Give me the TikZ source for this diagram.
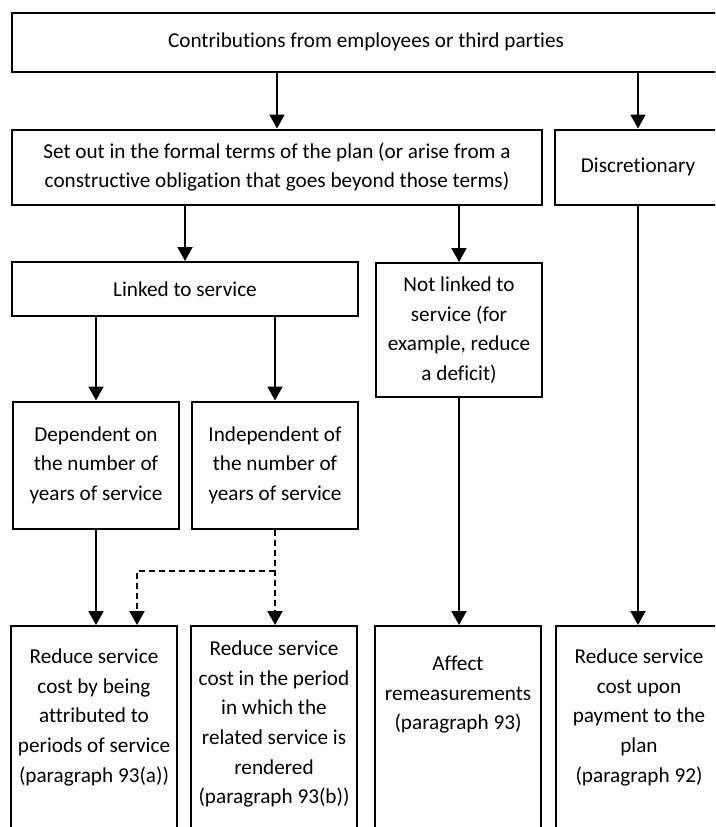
\documentclass[tikz,border=0pt]{standalone}
\usepackage{fontspec}
\setmainfont{Carlito}[Ligatures=NoCommon]
\usetikzlibrary{arrows.meta}
\newcommand{\lowtext}[2]{\parbox[t][230pt][t]{166pt}{\centering\vspace*{#1}#2}}

\begin{document}
\begin{tikzpicture}[x=1pt,y=-1pt,
	font=\fontsize{21.2}{29.6}\selectfont,
	box/.style={draw, line width=2pt, inner sep=0pt, align=center},
	arr/.style={line width=2pt, -{Triangle[width=15pt,length=14pt]}},
	dasharr/.style={arr, dash pattern=on 6pt off 4pt}]
	\useasboundingbox (0,0) rectangle (715,827);
	\clip (0,0) rectangle (715,827);

	\node[box, minimum width=708pt, minimum height=59pt] (top) at (366,42) {Contributions from employees or third parties};

	\node[box, minimum width=530pt, minimum height=75pt] (setout) at (277,167) {Set out in the formal terms of the plan (or arise from a\\constructive obligation that goes beyond those terms)};
	\node[box, minimum width=166pt, minimum height=75pt] (disc) at (638,167) {Discretionary};

	\node[box, minimum width=346pt, minimum height=54pt] (linked) at (185,289) {Linked to service};
	\node[box, minimum width=166pt, minimum height=134pt] (notlinked) at (459,330) {Not linked to\\service (for\\example, reduce\\a deficit)};

	\node[box, minimum width=166pt, minimum height=127pt] (dep) at (96,465) {Dependent on\\the number of\\years of service};
	\node[box, minimum width=166pt, minimum height=127pt] (indep) at (275,465) {Independent of\\the number of\\years of service};

	\node[box, anchor=north] (red1) at (94,625) {\lowtext{23pt}{Reduce service\\cost by being\\attributed to\\periods of service\\(paragraph 93(a))}};
	\node[box, anchor=north] (red2) at (274,625) {\lowtext{15pt}{Reduce service\\cost in the period\\in which the\\related service is\\rendered\\(paragraph 93(b))}};
	\node[box, anchor=north] (red3) at (458,625) {\lowtext{30pt}{Affect\\remeasurements\\(paragraph 93)}};
	\node[box, anchor=north] (red4) at (639,625) {\lowtext{23pt}{Reduce service\\cost upon\\payment to the\\plan\\(paragraph 92)}};

	\coordinate (fork) at (137,571);

	\foreach \a / \b in {top/setout, top/disc, setout/linked, setout/notlinked, linked/dep, linked/indep}
	{
		\draw[arr] (\b.north |- \a.south) -- (\b.north);
	};

	\foreach \a / \b in {dep/red1, notlinked/red3, disc/red4}
	{
		\draw[arr] (\a.south) -- (\a.south |- \b.north);
	};

	\draw[dasharr] (indep.south) -- (indep.south |- red2.north);
	\draw[dasharr] (fork -| indep.south) -- (fork) -- (fork |- red1.north);
\end{tikzpicture}
\end{document}
